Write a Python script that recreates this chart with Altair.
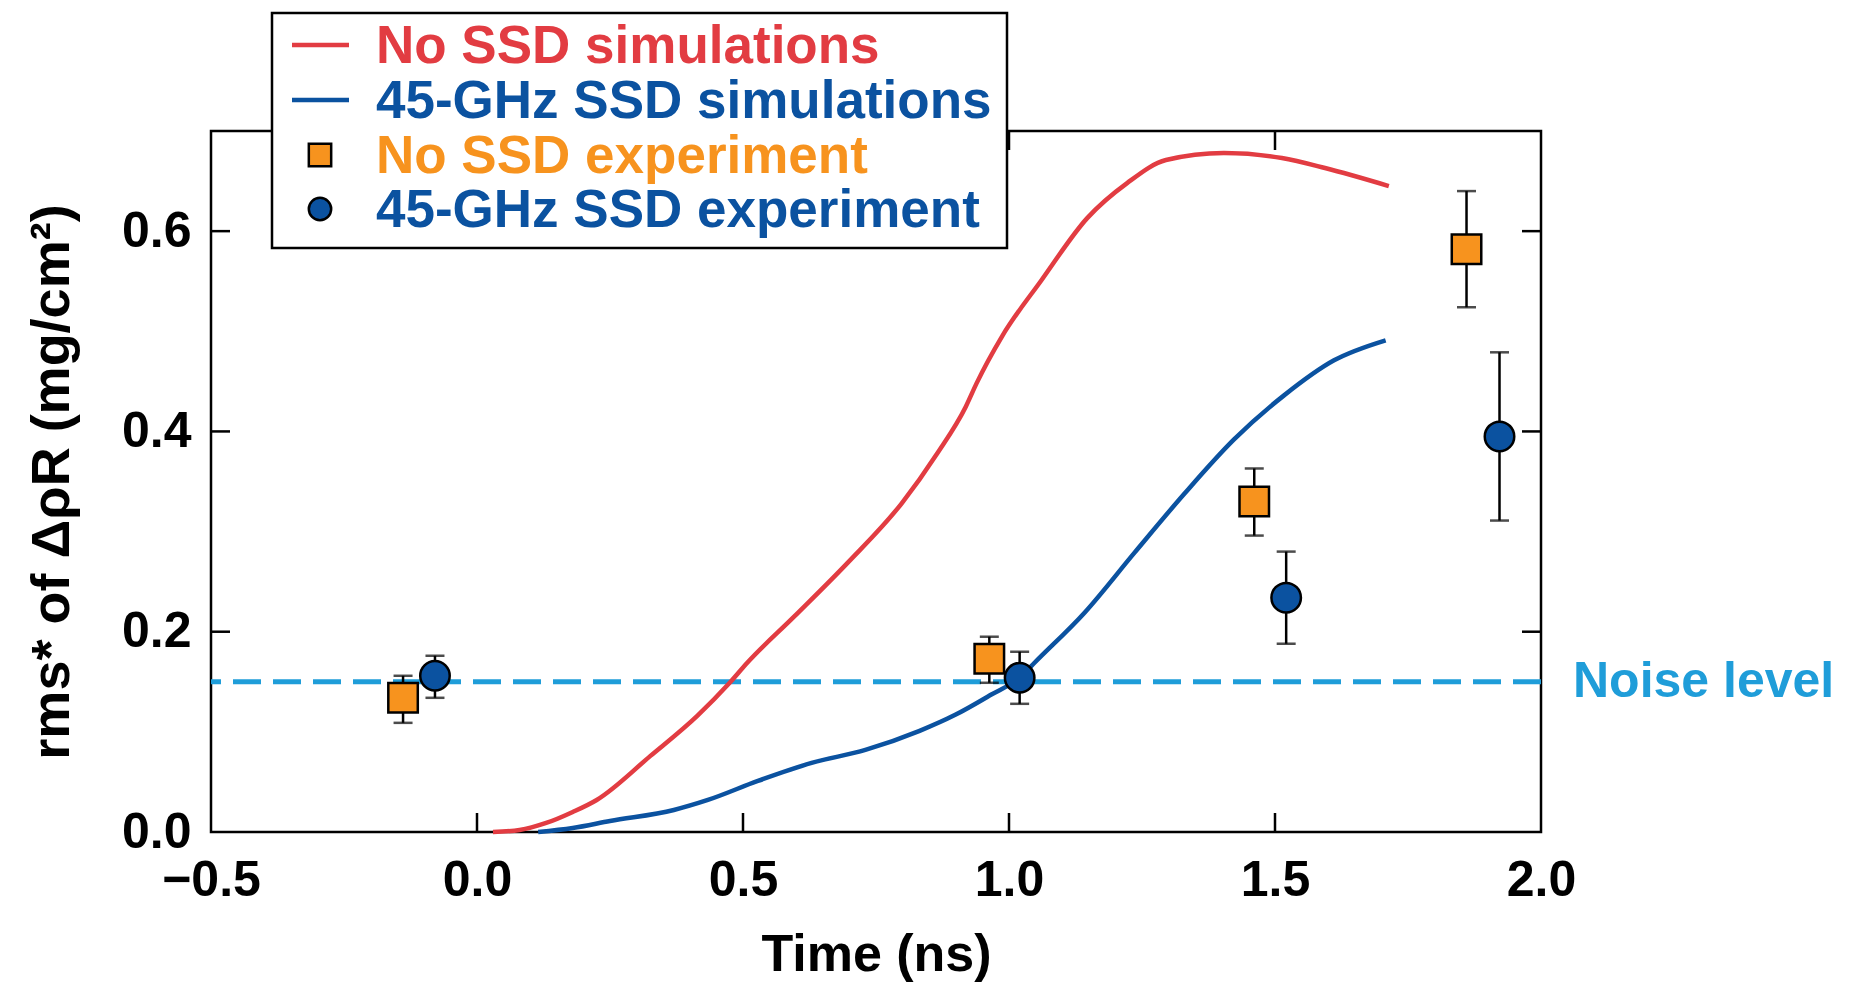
import altair as alt
import pandas as pd

# ---------------- data ----------------
red_t = [0.03, 0.08, 0.13, 0.18, 0.225, 0.326, 0.414, 0.475, 0.508, 0.596, 0.697, 0.798, 0.865,
         0.919, 0.939, 0.987, 1.061, 1.147, 1.222, 1.295, 1.404, 1.513, 1.594, 1.714]
red_v = [0.000, 0.002, 0.009, 0.020, 0.032, 0.076, 0.116, 0.149, 0.169, 0.215, 0.269, 0.328, 0.378,
         0.425, 0.448, 0.495, 0.551, 0.613, 0.648, 0.671, 0.678, 0.673, 0.663, 0.645]

blue_t = [0.115, 0.18, 0.25, 0.37, 0.434, 0.528, 0.629, 0.730, 0.832, 0.899, 0.966, 1.022, 1.048,
          1.142, 1.236, 1.330, 1.423, 1.517, 1.611, 1.708]
blue_v = [0.000, 0.004, 0.011, 0.022, 0.032, 0.051, 0.069, 0.082, 0.101, 0.117, 0.137, 0.155, 0.169,
          0.219, 0.279, 0.338, 0.392, 0.436, 0.471, 0.491]

sq_t = [-0.139, 0.963, 1.461, 1.860]
sq_v = [0.134, 0.173, 0.330, 0.582]
sq_lo = [0.109, 0.149, 0.296, 0.524]
sq_hi = [0.156, 0.195, 0.363, 0.640]

ci_t = [-0.079, 1.020, 1.521, 1.922]
ci_v = [0.156, 0.154, 0.234, 0.395]
ci_lo = [0.134, 0.128, 0.188, 0.311]
ci_hi = [0.176, 0.180, 0.280, 0.479]

noise_level = [0.15]
x_ticks = [-0.5, 0.0, 0.5, 1.0, 1.5, 2.0]
y_ticks = [0.0, 0.2, 0.4, 0.6]
x_inner_ticks = [0.0, 0.5, 1.0, 1.5]
y_inner_ticks = [0.2, 0.4, 0.6]

legend_labels = ["No SSD simulations", "45-GHz SSD simulations",
                 "No SSD experiment", "45-GHz SSD experiment"]

# ---------------- style ----------------
RED = "#E23C42"
BLUE = "#0B52A0"
ORANGE = "#F7931E"
NOISE = "#1F9DD9"
FONT = "Liberation Sans"
W, H = 1330, 701
TICK = 19

xs = alt.Scale(domain=[-0.5, 2.0], nice=False, zero=False)
ys = alt.Scale(domain=[0.0, 0.7], nice=False, zero=False)
xaxis = alt.Axis(values=x_ticks, format=".1f", title="Time (ns)", grid=False, ticks=False,
                 tickSize=0, domain=False, labelPadding=23, titlePadding=24,
                 labelOverlap=False, labelFlush=False)
yaxis = alt.Axis(values=y_ticks, format=".1f", title="rms* of ΔρR (mg/cm²)", grid=False,
                 ticks=False, tickSize=0, domain=False, labelPadding=20, titlePadding=42,
                 titleFontSize=54, labelOverlap=False, labelFlush=False)

def X(f):
    return alt.X(f, type="quantitative", scale=xs, axis=xaxis)

def Y(f):
    return alt.Y(f, type="quantitative", scale=ys, axis=yaxis)

red_df = pd.DataFrame({"t": red_t, "v": red_v})
blue_df = pd.DataFrame({"t": blue_t, "v": blue_v})
sq_df = pd.DataFrame({"t": sq_t, "v": sq_v, "lo": sq_lo, "hi": sq_hi})
ci_df = pd.DataFrame({"t": ci_t, "v": ci_v, "lo": ci_lo, "hi": ci_hi})
noise_df = pd.DataFrame({"level": noise_level, "t": [2.0]})
xt_df = pd.DataFrame({"tx": x_inner_ticks})
yt_df = pd.DataFrame({"ty": y_inner_ticks})
one = pd.DataFrame({"a": [0]})

noise_line = alt.Chart(noise_df).mark_rule(color=NOISE, strokeWidth=5, strokeDash=[28, 12]).encode(
    y=Y("level"))

red_line = alt.Chart(red_df).mark_line(color=RED, strokeWidth=4.5, interpolate="monotone").encode(
    x=X("t"), y=Y("v"))
blue_line = alt.Chart(blue_df).mark_line(color=BLUE, strokeWidth=4.5, interpolate="monotone").encode(
    x=X("t"), y=Y("v"))

def errbars(df):
    bar = alt.Chart(df).mark_rule(color="black", strokeWidth=2.5).encode(x=X("t"), y=Y("lo"), y2="hi")
    cap_lo = alt.Chart(df).mark_tick(color="black", thickness=2.5, size=19, orient="horizontal").encode(
        x=X("t"), y=Y("lo"))
    cap_hi = alt.Chart(df).mark_tick(color="black", thickness=2.5, size=19, orient="horizontal").encode(
        x=X("t"), y=Y("hi"))
    return [bar, cap_lo, cap_hi]

sq_pts = alt.Chart(sq_df).mark_point(shape="square", filled=True, fill=ORANGE, stroke="black",
                                     strokeWidth=2.5, size=870, opacity=1).encode(x=X("t"), y=Y("v"))
ci_pts = alt.Chart(ci_df).mark_point(shape="circle", filled=True, fill=BLUE, stroke="black",
                                     strokeWidth=2.5, size=870, opacity=1).encode(x=X("t"), y=Y("v"))

# inward ticks on all four sides
tick_b = alt.Chart(xt_df).mark_rule(color="black", strokeWidth=2.5).encode(
    x=X("tx"), y=alt.value(H), y2=alt.value(H - TICK))
tick_t = alt.Chart(xt_df).mark_rule(color="black", strokeWidth=2.5).encode(
    x=X("tx"), y=alt.value(0), y2=alt.value(TICK))
tick_l = alt.Chart(yt_df).mark_rule(color="black", strokeWidth=2.5).encode(
    y=Y("ty"), x=alt.value(0), x2=alt.value(TICK))
tick_r = alt.Chart(yt_df).mark_rule(color="black", strokeWidth=2.5).encode(
    y=Y("ty"), x=alt.value(W), x2=alt.value(W - TICK))

noise_text = alt.Chart(noise_df).mark_text(text="Noise level", color=NOISE, font=FONT, fontWeight="bold",
                                           fontSize=50, align="left", baseline="middle", dx=32).encode(
    x=X("t"), y=Y("level"))

# legend box (drawn above the plot area)
LX0, LX1, LY0, LY1 = 61, 796, -118, 117
legend_box = alt.Chart(one).mark_rect(fill="white", stroke="black", strokeWidth=2.5).encode(
    x=alt.value(LX0), x2=alt.value(LX1), y=alt.value(LY0), y2=alt.value(LY1))

rows = [-86, -31, 24, 78]
colors = [RED, BLUE, ORANGE, BLUE]
legend_layers = [legend_box]
legend_layers.append(alt.Chart(one).mark_rule(color=RED, strokeWidth=4.5).encode(
    x=alt.value(81), x2=alt.value(138), y=alt.value(rows[0])))
legend_layers.append(alt.Chart(one).mark_rule(color=BLUE, strokeWidth=4.5).encode(
    x=alt.value(81), x2=alt.value(138), y=alt.value(rows[1])))
legend_layers.append(alt.Chart(one).mark_point(shape="square", filled=True, fill=ORANGE, stroke="black",
                                               strokeWidth=2.5, size=500, opacity=1).encode(
    x=alt.value(109), y=alt.value(rows[2])))
legend_layers.append(alt.Chart(one).mark_point(shape="circle", filled=True, fill=BLUE, stroke="black",
                                               strokeWidth=2.5, size=500, opacity=1).encode(
    x=alt.value(109), y=alt.value(rows[3])))
for lab, col, ry in zip(legend_labels, colors, rows):
    legend_layers.append(alt.Chart(one).mark_text(text=lab, color=col, font=FONT, fontWeight="bold",
                                                  fontSize=53, align="left", baseline="middle").encode(
        x=alt.value(165), y=alt.value(ry + 2)))

layers = [noise_line, red_line, blue_line] + errbars(sq_df) + errbars(ci_df) + [sq_pts, ci_pts,
          tick_b, tick_t, tick_l, tick_r, noise_text] + legend_layers

chart = alt.layer(*layers).properties(
    width=W, height=H,
    padding={"left": 203, "top": 123, "right": 302, "bottom": 150},
    autosize=alt.AutoSizeParams(type="none"),
    background="white",
).configure_view(stroke="black", strokeWidth=2.5).configure_axis(
    labelFont=FONT, labelFontWeight="bold", labelFontSize=50, labelColor="black",
    titleFont=FONT, titleFontWeight="bold", titleFontSize=52, titleColor="black",
)

chart.save("out.html", embed_options={"renderer": "svg", "actions": False})
